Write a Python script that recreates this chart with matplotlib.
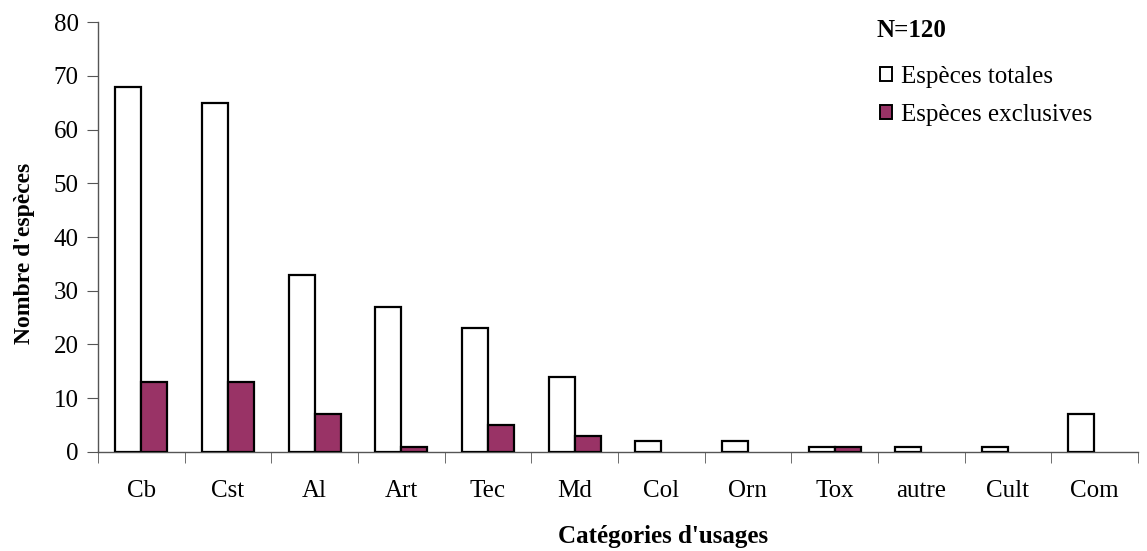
import numpy as np
import matplotlib.pyplot as plt
from matplotlib.patches import Patch

plt.rcParams['font.family'] = ['Liberation Serif', 'DejaVu Serif']

categories = ['Cb', 'Cst', 'Al', 'Art', 'Tec', 'Md', 'Col', 'Orn', 'Tox', 'autre', 'Cult', 'Com']
totales = [68, 65, 33, 27, 23, 14, 2, 2, 1, 1, 1, 7]
exclusives = [13, 13, 7, 1, 5, 3, 0, 0, 1, 0, 0, 0]

fig = plt.figure(figsize=(11.47, 5.51), dpi=100)
ax = fig.add_axes([0.0854, 0.1797, 0.9066, 0.7803])

x = np.arange(len(categories))
w = 0.3
tot = np.array(totales)
exc = np.array(exclusives)
# empty categories get no bar at all
m1 = tot > 0
m2 = exc > 0
ax.bar(x[m1] - w / 2, tot[m1], w, color='white', edgecolor='black', linewidth=1.6, zorder=3)
ax.bar(x[m2] + w / 2, exc[m2], w, color='#993366', edgecolor='black', linewidth=1.6, zorder=3)

ax.set_xlim(-0.5, len(categories) - 0.5)
ax.set_ylim(0, 80)
ax.set_yticks(range(0, 81, 10))
ax.tick_params(axis='y', labelsize=18, length=8, color='#555555', direction='out', pad=6)

# category labels centred, ticks between the categories
ax.set_xticks(x)
ax.set_xticklabels(categories, fontsize=18)
ax.tick_params(axis='x', which='major', length=0, pad=20)
ax.set_xticks(np.arange(-0.5, len(categories)), minor=True)
ax.tick_params(axis='x', which='minor', length=8, color='#555555', direction='out')

for side in ['top', 'right']:
    ax.spines[side].set_visible(False)
for side in ['left', 'bottom']:
    ax.spines[side].set_color('#555555')
    ax.spines[side].set_linewidth(1)

fig.text(0.021, 0.54, "Nombre d'espèces", fontsize=17, fontweight='bold',
         rotation=90, ha='center', va='center')
fig.text(0.578, 0.0145, "Catégories d'usages", fontsize=18, fontweight='bold',
         ha='center', va='baseline')

fig.text(0.764, 0.945, 'N=120', fontsize=18, fontweight='bold', va='center')
handles = [Patch(facecolor='white', edgecolor='black', linewidth=1.4),
           Patch(facecolor='#993366', edgecolor='black', linewidth=1.4)]
fig.legend(handles, ['Espèces totales', 'Espèces exclusives'], loc='upper left',
           bbox_to_anchor=(0.767, 0.881), frameon=False, fontsize=18,
           handlelength=0.5, handleheight=0.5, handletextpad=0.35, labelspacing=0.64,
           borderaxespad=0, borderpad=0)

fig.savefig('out.png', dpi=100)
